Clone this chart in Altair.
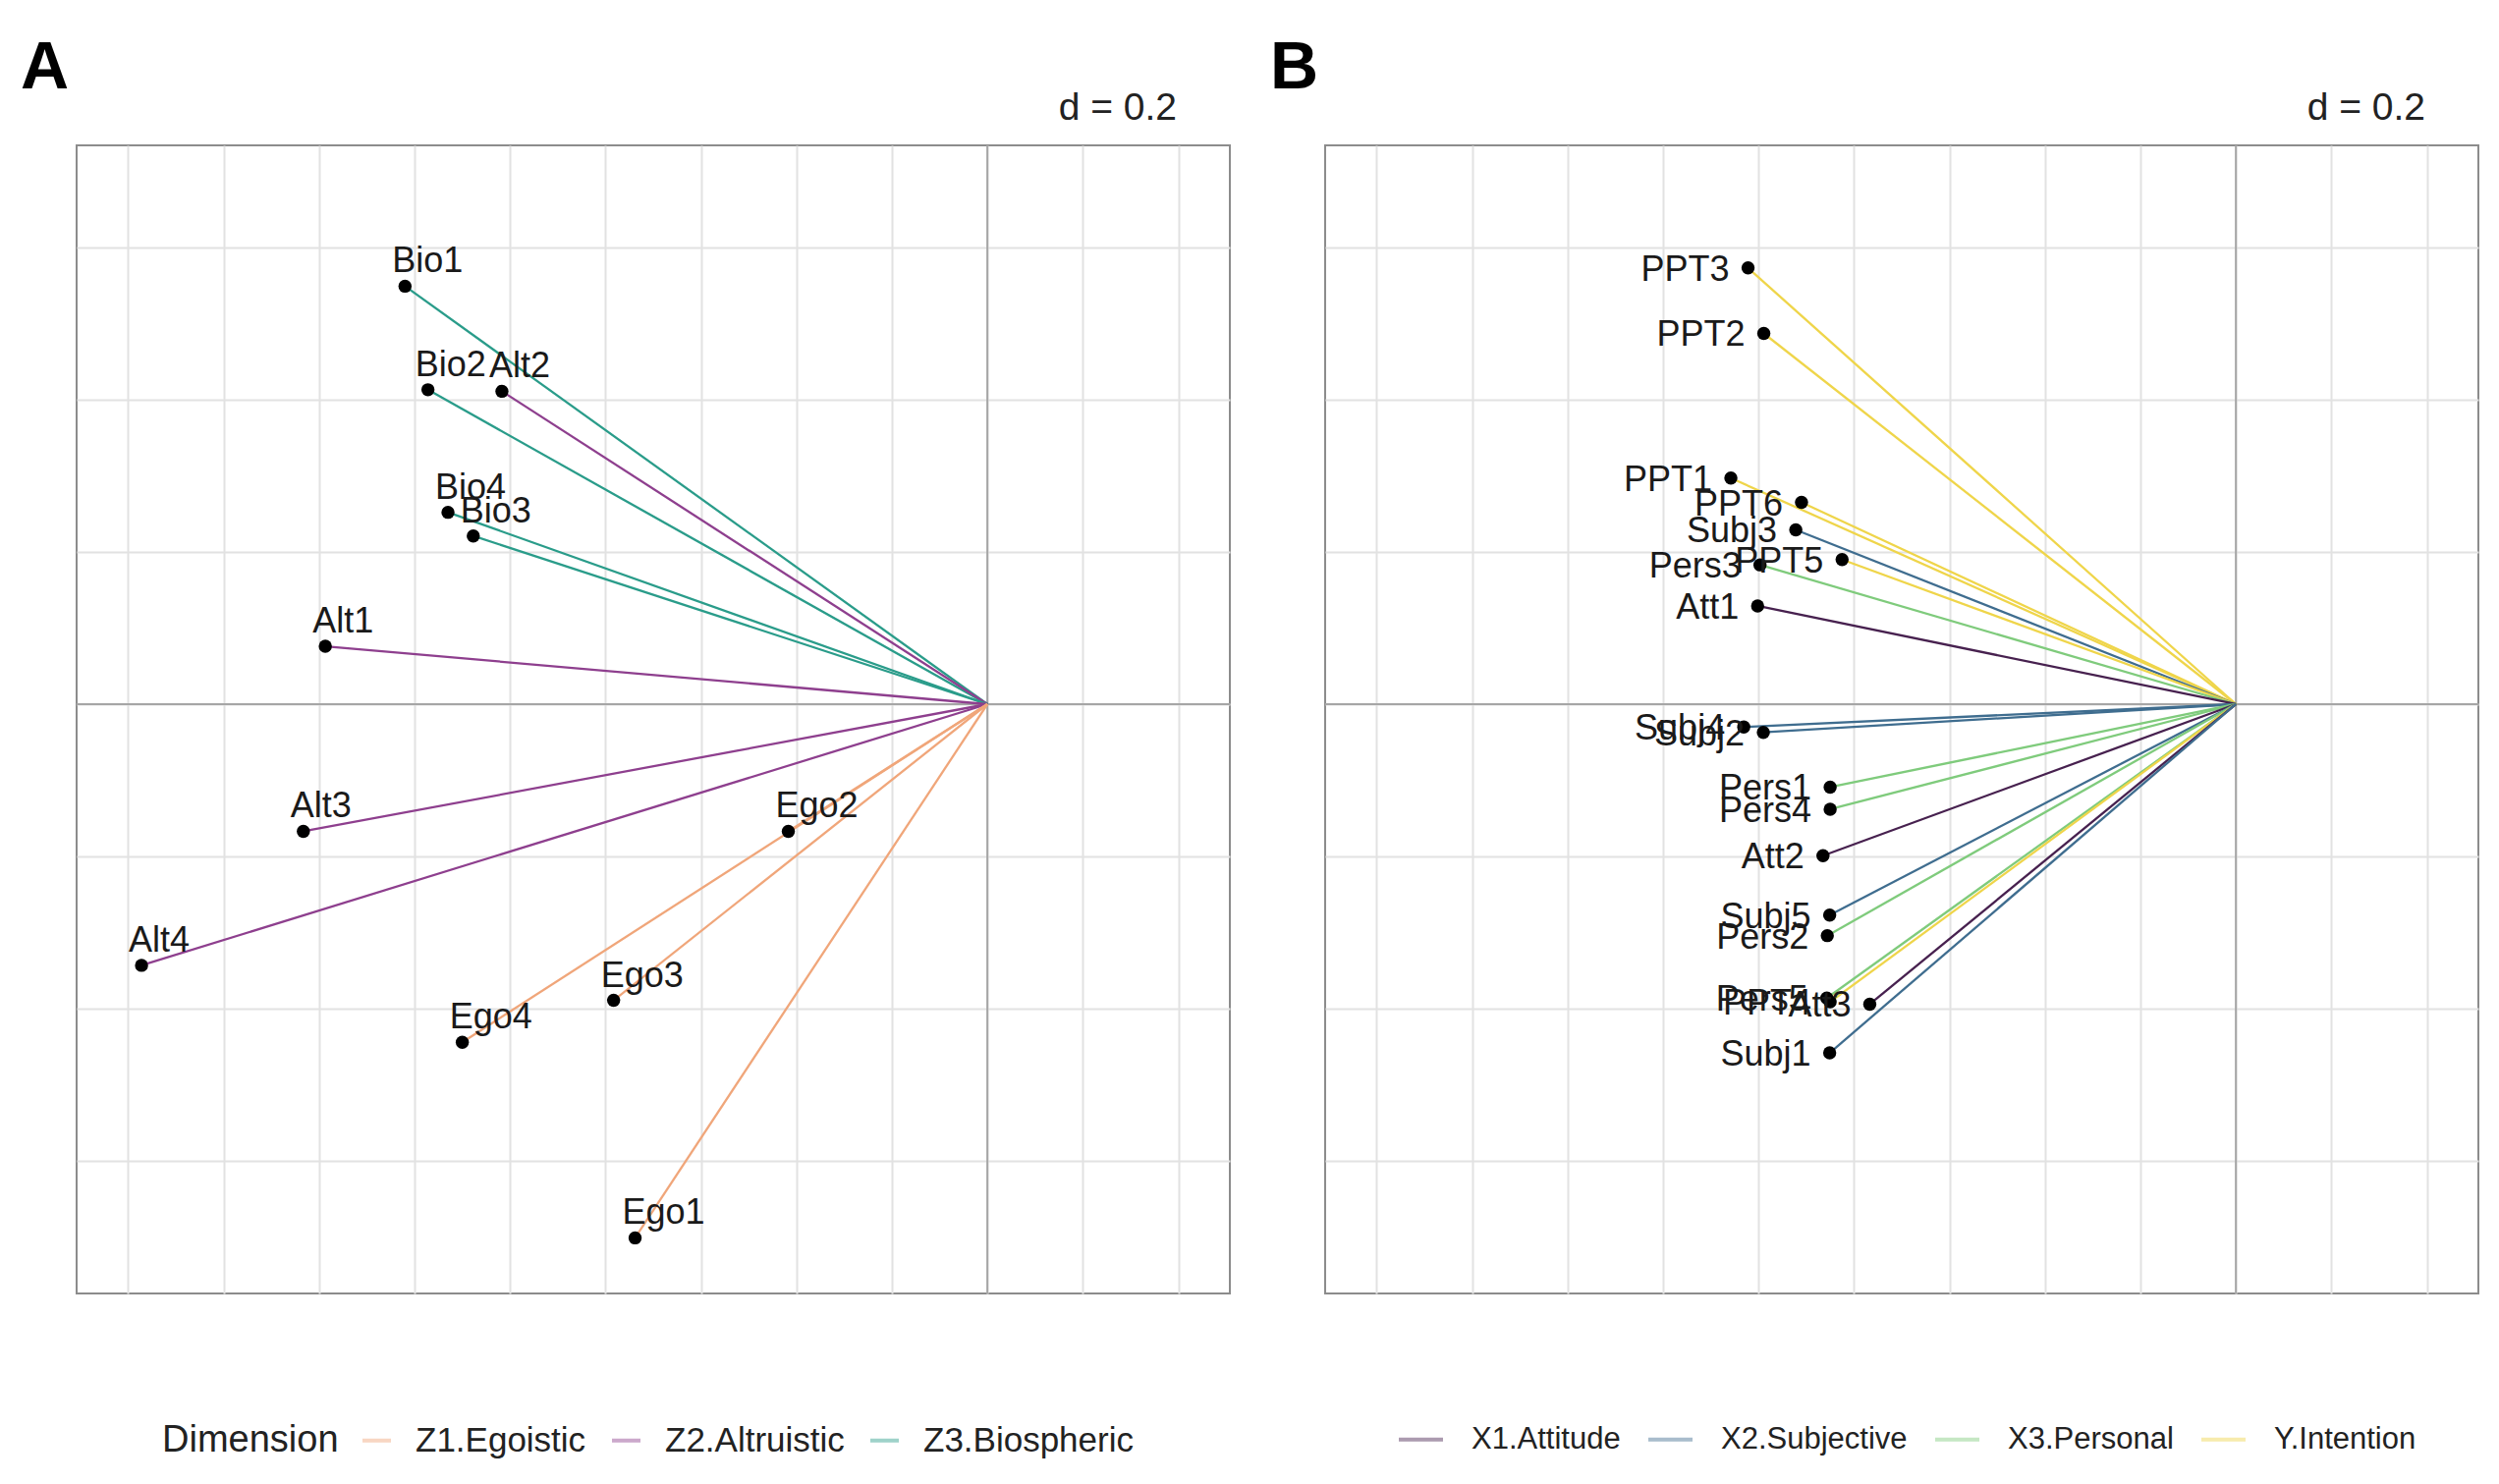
import altair as alt
import pandas as pd

# ---------------- Panel A data ----------------
a_items = ["Bio1", "Bio2", "Alt2", "Bio4", "Bio3", "Alt1", "Alt3", "Alt4",
           "Ego2", "Ego3", "Ego4", "Ego1"]
a_x = [-1.220, -1.172, -1.017, -1.130, -1.077, -1.387, -1.433, -1.772,
       -0.417, -0.783, -1.100, -0.738]
a_y = [0.549, 0.413, 0.411, 0.252, 0.221, 0.076, -0.167, -0.343,
       -0.167, -0.389, -0.444, -0.701]
a_group = ["Z3.Biospheric", "Z3.Biospheric", "Z2.Altruistic", "Z3.Biospheric",
           "Z3.Biospheric", "Z2.Altruistic", "Z2.Altruistic", "Z2.Altruistic",
           "Z1.Egoistic", "Z1.Egoistic", "Z1.Egoistic", "Z1.Egoistic"]
a_domain = ["Z1.Egoistic", "Z2.Altruistic", "Z3.Biospheric"]
a_colors = ["#F0A67A", "#8E3F8E", "#2A9C8A"]

# ---------------- Panel B data ----------------
b_items = ["PPT3", "PPT2", "PPT1", "PPT6", "Subj3", "PPT5", "Pers3", "Att1",
           "Subj4", "Subj2", "Pers1", "Pers4", "Att2", "Subj5", "Pers2",
           "Pers5", "PPT4", "Att3", "Subj1"]
b_x = [-1.022, -0.989, -1.058, -0.910, -0.922, -0.825, -0.997, -1.002,
       -1.031, -0.990, -0.850, -0.850, -0.865, -0.851, -0.856,
       -0.857, -0.850, -0.767, -0.851]
b_y = [0.573, 0.487, 0.297, 0.265, 0.229, 0.190, 0.183, 0.129,
       -0.030, -0.037, -0.109, -0.138, -0.199, -0.277, -0.304,
       -0.386, -0.391, -0.394, -0.458]
b_group = ["Y.Intention", "Y.Intention", "Y.Intention", "Y.Intention",
           "X2.Subjective", "Y.Intention", "X3.Personal", "X1.Attitude",
           "X2.Subjective", "X2.Subjective", "X3.Personal", "X3.Personal",
           "X1.Attitude", "X2.Subjective", "X3.Personal",
           "X3.Personal", "Y.Intention", "X1.Attitude", "X2.Subjective"]
b_domain = ["X1.Attitude", "X2.Subjective", "X3.Personal", "Y.Intention"]
b_colors = ["#47214F", "#3F6D8F", "#7FCB7C", "#EFD54A"]

x_grid = [-1.8, -1.6, -1.4, -1.2, -1.0, -0.8, -0.6, -0.4, -0.2, 0.0, 0.2, 0.4]
y_grid = [-0.6, -0.4, -0.2, 0.0, 0.2, 0.4, 0.6]
x_dom = [-1.908, 0.508]
y_dom = [-0.774, 0.734]

W, H = 1174, 1169
FONT = "Liberation Sans"


def panel(items, xs, ys, groups, domain, colors, letter, legend_title,
          legend_x, legend_y, label_side, legend_fs, sym_size, lab_off,
          col_pad):
    df = pd.DataFrame({"item": items, "x": xs, "y": ys, "group": groups})
    xs_ = alt.Scale(domain=x_dom, nice=False, zero=False)
    ys_ = alt.Scale(domain=y_dom, nice=False, zero=False)
    x_axis = alt.Axis(values=x_grid, grid=True, labels=False, ticks=False,
                      domain=False, title=None, gridColor="#E2E2E2",
                      gridWidth=2)
    y_axis = alt.Axis(values=y_grid, grid=True, labels=False, ticks=False,
                      domain=False, title=None, gridColor="#E2E2E2",
                      gridWidth=2)
    base = alt.Chart(df)

    legend_kwargs = dict(
        orient="none", legendX=legend_x, legendY=legend_y,
        direction="horizontal", columns=len(domain),
        symbolType="stroke", symbolStrokeWidth=4, symbolSize=sym_size,
        symbolOpacity=0.45, labelFontSize=legend_fs, labelFont=FONT,
        labelOffset=lab_off, columnPadding=col_pad, labelColor="#222222",
        labelLimit=0,
    )
    if legend_title:
        legend = alt.Legend(title=legend_title, titleOrient="left",
                            titleFontSize=38, titleFontWeight="normal",
                            titleFont=FONT, titleColor="#222222",
                            titlePadding=21, titleLimit=0, **legend_kwargs)
    else:
        legend = alt.Legend(title=None, **legend_kwargs)

    segs = base.mark_rule(strokeWidth=2.3).encode(
        x=alt.X("x:Q", scale=xs_, axis=x_axis),
        y=alt.Y("y:Q", scale=ys_, axis=y_axis),
        x2=alt.datum(0),
        y2=alt.datum(0),
        color=alt.Color("group:N", scale=alt.Scale(domain=domain, range=colors),
                        legend=legend),
    )
    zero_v = alt.Chart(pd.DataFrame({"k": [0]})).mark_rule(
        color="#A6A6A6", strokeWidth=2).encode(x=alt.datum(0))
    zero_h = alt.Chart(pd.DataFrame({"k": [0]})).mark_rule(
        color="#A6A6A6", strokeWidth=2).encode(y=alt.datum(0))
    pts = base.mark_circle(size=180, color="black", opacity=1).encode(
        x="x:Q", y="y:Q")
    if label_side == "above":
        labels = base.mark_text(align="left", baseline="alphabetic", dx=-13,
                                dy=-14, fontSize=36, font=FONT,
                                color="#1a1a1a").encode(
            x="x:Q", y="y:Q", text="item:N")
    else:
        labels = base.mark_text(align="right", baseline="middle", dx=-19,
                                dy=2, fontSize=36, font=FONT,
                                color="#1a1a1a").encode(
            x="x:Q", y="y:Q", text="item:N")
    ann = pd.DataFrame({"k": [0]})
    dlab = alt.Chart(ann).mark_text(text="d = 0.2", align="right",
                                    baseline="alphabetic", fontSize=39,
                                    font=FONT, color="#222222").encode(
        x=alt.value(1120), y=alt.value(-26))
    let = alt.Chart(ann).mark_text(text=letter, align="left",
                                   baseline="alphabetic", fontSize=68,
                                   fontWeight="bold", font=FONT,
                                   color="black").encode(
        x=alt.value(-57 if letter == "A" else -56), y=alt.value(-58))
    return alt.layer(zero_v, zero_h, segs, pts, labels, dlab, let).properties(
        width=W, height=H)


pa = panel(a_items, a_x, a_y, a_group, a_domain, a_colors, "A", "Dimension",
           87, 1301, "above", 35, 841, 22, 18)
pb = panel(b_items, b_x, b_y, b_group, b_domain, b_colors, "B", None,
           73, 1293, "left", 31, 2025, 27, 20)

chart = alt.hconcat(pa, pb, spacing=38).resolve_scale(
    color="independent").resolve_legend(color="independent").properties(
    padding={"left": 20, "top": 35, "right": 0, "bottom": 0}
).configure(font=FONT).configure_view(stroke="#8C8C8C", strokeWidth=2)

chart.save("out.html", embed_options={"renderer": "svg", "actions": False})
